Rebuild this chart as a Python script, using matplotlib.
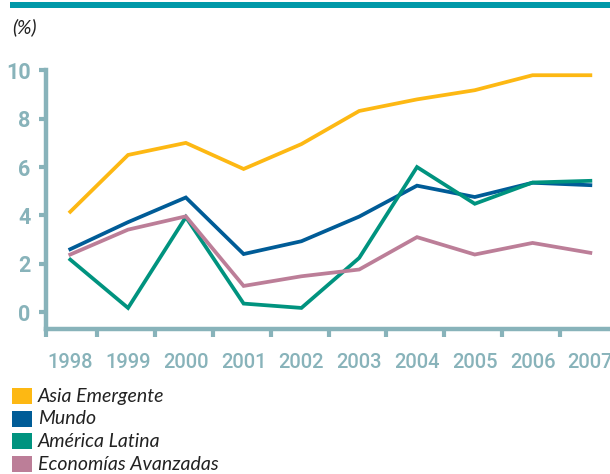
import numpy as np
import matplotlib.pyplot as plt
from matplotlib.patches import Rectangle

plt.switch_backend("Agg")

# Data
years = ["1998", "1999", "2000", "2001", "2002", "2003", "2004", "2005", "2006", "2007"]
asia_emergente = [4.15, 6.5, 7.0, 5.92, 6.95, 8.32, 8.8, 9.18, 9.8, 9.8]
mundo = [2.6, 3.72, 4.74, 2.4, 2.93, 3.95, 5.23, 4.76, 5.35, 5.25]
america_latina = [2.17, 0.17, 3.93, 0.35, 0.17, 2.24, 6.0, 4.48, 5.36, 5.43]
economias_avanzadas = [2.38, 3.41, 3.96, 1.08, 1.48, 1.76, 3.1, 2.38, 2.86, 2.45]

series = [
    ("Asia Emergente", asia_emergente, "#FDB813"),
    ("Mundo", mundo, "#005C97"),
    ("América Latina", america_latina, "#00937F"),
    ("Economías Avanzadas", economias_avanzadas, "#BC7E98"),
]

axis_color = "#88B3BA"
label_font = ["Roboto", "DejaVu Sans"]
text_font = ["Lato", "DejaVu Sans"]

fig = plt.figure(figsize=(6.1, 4.74), dpi=100)
ax = fig.add_axes([0.0754, 0.306, 0.9246, 0.5608])

x = np.arange(len(years))
for name, vals, color in series:
    ax.plot(x, vals, color=color, linewidth=2.7, solid_joinstyle="miter")

ax.set_xlim(-0.42, 9.34)
ax.set_ylim(-0.7, 10.3)

# spines
for side in ["top", "right"]:
    ax.spines[side].set_visible(False)
for side in ["left", "bottom"]:
    ax.spines[side].set_color(axis_color)
    ax.spines[side].set_linewidth(3.2)
ax.spines["left"].set_bounds(-0.7, 10)

# y ticks
ax.set_yticks(np.arange(0, 11, 2))
ax.tick_params(axis="y", length=5, width=3, color=axis_color, pad=6,
               labelcolor=axis_color)
for lab in ax.get_yticklabels():
    lab.set_family(label_font)
    lab.set_fontsize(15.5)
    lab.set_fontweight("bold")

# x: labels at centres, marks at the boundaries
ax.set_xticks(x)
ax.set_xticklabels(years)
ax.tick_params(axis="x", which="major", length=0, pad=17, labelcolor=axis_color)
ax.set_xticks([-0.42] + list(x[:-1] + 0.47), minor=True)
ax.tick_params(axis="x", which="minor", length=6, width=3, color=axis_color)
for lab in ax.get_xticklabels():
    lab.set_family(label_font)
    lab.set_fontsize(14.5)
    lab.set_fontweight("medium")

# top bar and unit
fig.add_artist(Rectangle((0.0164, 0.983), 0.99, 0.0128, transform=fig.transFigure,
                         color="#0099A9", lw=0))
fig.text(0.02, 1 - 27 / 474, "(%)", family=text_font, style="italic",
         fontsize=14, color="#222222", va="center", ha="left")

# legend
for i, (name, vals, color) in enumerate(series):
    y_top = 388 + i * 22.5
    fig.add_artist(Rectangle((12 / 610, 1 - (y_top + 16) / 474), 20 / 610, 16 / 474,
                             transform=fig.transFigure, color=color, lw=0))
    fig.text(38 / 610, 1 - (y_top + 8.5) / 474, name, family=text_font,
             style="italic", fontsize=14, color="#222222", va="center", ha="left")

fig.savefig("out.png", dpi=100)
plt.close(fig)
